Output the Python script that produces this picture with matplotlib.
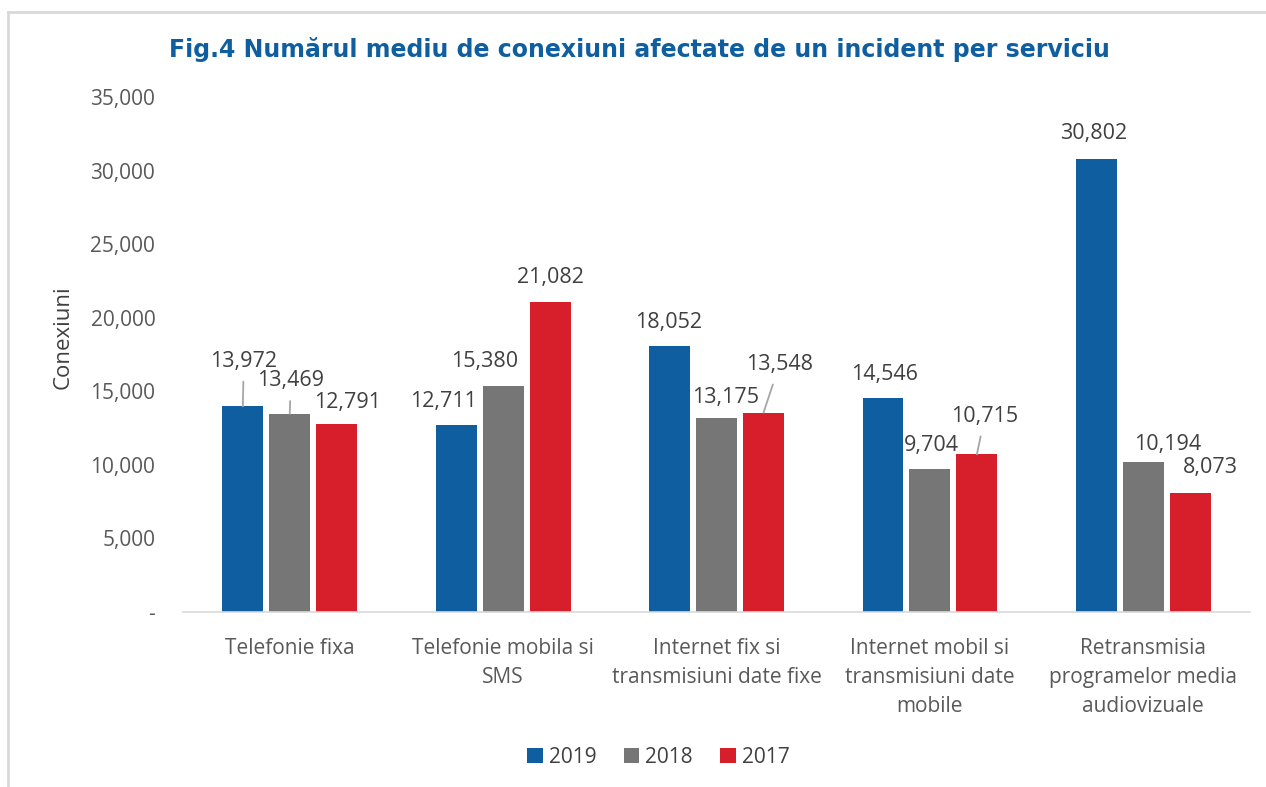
import numpy as np
import matplotlib.pyplot as plt
from matplotlib.lines import Line2D

# categorii si valori
servicii = ['Telefonie fixa', 'Telefonie mobila si\nSMS', 'Internet fix si\ntransmisiuni date fixe',
            'Internet mobil si\ntransmisiuni date\nmobile', 'Retransmisia\nprogramelor media\naudiovizuale']
ani = ['2019', '2018', '2017']
v2019 = [13972, 12711, 18052, 14546, 30802]
v2018 = [13469, 15380, 13175, 9704, 10194]
v2017 = [12791, 21082, 13548, 10715, 8073]

culori = ['#0F5FA0', '#767676', '#D71F2B']

# deplasarea etichetelor fata de varful barei (pixeli) si daca au linie de legatura
dx_et = [[1, -13, -1, 1, -3], [1, -19, 9, 1, 24], [11, 0, 16, 8, 20]]
dy_et = [[45, 23, 24, 23, 25], [33, 24, 21, 24, 17], [21, 24, 48, 38, 26]]
linie = [[True, False, False, False, False], [True, False, False, False, False],
         [False, False, True, True, False]]

plt.rcParams['font.family'] = ['Open Sans', 'DejaVu Sans']

fig = plt.figure(figsize=(12.66, 7.87), dpi=100)
ax = fig.add_axes([0.1446, 0.2224, 0.8428, 0.6543])

x = np.arange(len(servicii))
w = 0.192
pas = 0.22
valori = [v2019, v2018, v2017]

for i, (serie, nume) in enumerate(zip(valori, ani)):
    bare = ax.bar(x + (i - 1) * pas, serie, width=w, color=culori[i], label=nume)
    for j, b in enumerate(bare):
        xc = b.get_x() + b.get_width() / 2
        h = b.get_height()
        txt = f'{serie[j]:,}'
        if linie[i][j]:
            ax.annotate(txt, xy=(xc, h), xytext=(dx_et[i][j], dy_et[i][j]),
                        textcoords='offset pixels', ha='center', va='center',
                        fontsize=15.5, color='#404040',
                        arrowprops=dict(arrowstyle='-', color='#A6A6A6', lw=1.3,
                                        shrinkA=5, shrinkB=0))
        else:
            ax.annotate(txt, xy=(xc, h), xytext=(dx_et[i][j], dy_et[i][j]),
                        textcoords='offset pixels', ha='center', va='center',
                        fontsize=15.5, color='#404040')

ax.set_xlim(-0.5, 4.5)
ax.set_ylim(0, 35000)
ax.set_yticks(np.arange(0, 35001, 5000))
ax.set_yticklabels(['-'] + [f'{t:,}' for t in range(5000, 35001, 5000)])
ax.set_xticks(x)
ax.set_xticklabels(servicii, linespacing=1.5)
ax.tick_params(axis='both', length=0, colors='#595959')
ax.tick_params(axis='y', labelsize=15, pad=20)
ax.tick_params(axis='x', labelsize=15, pad=19)
for s in ['top', 'right', 'left']:
    ax.spines[s].set_visible(False)
ax.spines['bottom'].set_color('#D9D9D9')
ax.spines['bottom'].set_linewidth(1.2)

ax.set_ylabel('Conexiuni', fontsize=16, color='#404040')
ax.yaxis.set_label_coords(-0.103, 0.534)

fig.text(0.505, 0.937, 'Fig.4 Numărul mediu de conexiuni afectate de un incident per serviciu',
         ha='center', va='center', fontsize=17, fontweight='bold', color='#0F5FA0',
         family='DejaVu Sans')

fig.legend(loc='center', bbox_to_anchor=(0.52, 0.038), ncol=3, frameon=False,
           fontsize=15, handlelength=0.75, handleheight=0.75, handletextpad=0.3,
           columnspacing=1.3, labelcolor='#404040')

# chenarul graficului
fig.add_artist(Line2D([0.0063, 1.0], [0.985, 0.985], color='#D9D9D9', lw=2))
fig.add_artist(Line2D([0.0063, 0.0063], [0.0, 0.985], color='#D9D9D9', lw=2))

fig.savefig('out.png', dpi=100)
